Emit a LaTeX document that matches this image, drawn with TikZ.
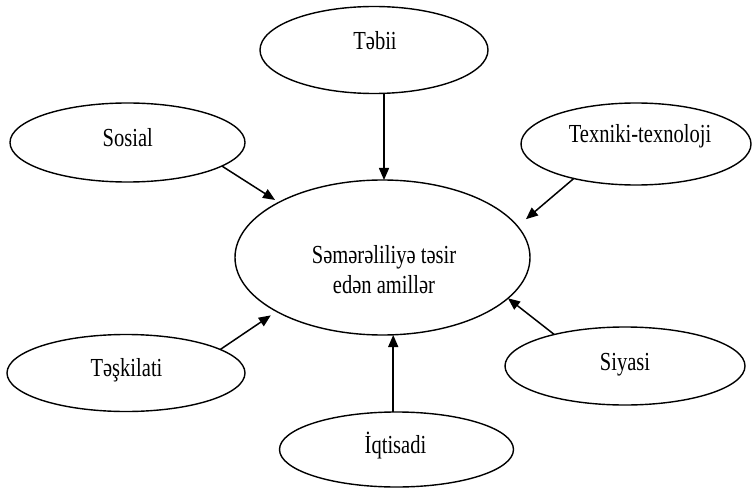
\documentclass[tikz,border=0pt]{standalone}
\usepackage{fontspec}
\setmainfont{Liberation Serif}[FakeStretch=0.79]
\usetikzlibrary{arrows.meta,shapes.geometric}
\begin{document}
\begin{tikzpicture}[x=1pt,y=-1pt,
  ell/.style={draw, ellipse, line width=1.4pt, inner sep=0pt, outer sep=0pt},
  txt/.style={font=\fontsize{26}{30}\selectfont, anchor=base, inner sep=0pt},
  arr/.style={line width=1.5pt, -{Triangle[length=12pt,width=10pt]}}]
\useasboundingbox (0,0) rectangle (754,489);
% ellipses
\node[ell, minimum width=295pt, minimum height=155pt] (cen) at (382.5,257.5) {};
\node[ell, minimum width=228pt, minimum height=87pt] (tebii) at (374,50) {};
\node[ell, minimum width=235pt, minimum height=79pt] (sosial) at (127.5,142.5) {};
\node[ell, minimum width=230pt, minimum height=82pt] (tex) at (636,144) {};
\node[ell, minimum width=238pt, minimum height=77pt] (tesk) at (126,373) {};
\node[ell, minimum width=240pt, minimum height=78pt] (siy) at (625,366) {};
\node[ell, minimum width=234pt, minimum height=75pt] (iqt) at (396.5,449.5) {};
% texts
\node[font=\fontsize{26}{30}\selectfont, align=center, inner sep=0pt] (cenT) at (384,270) {Səmərəliliyə təsir\\edən amillər};
\node[txt] (tebiiT) at (375,50) {Təbii};
\node[txt] (sosialT) at (127.8,146.7) {Sosial};
\node[txt] (texT) at (640,143) {Texniki-texnoloji};
\node[txt] (teskT) at (126.5,376.7) {Təşkilati};
\node[txt] (siyT) at (625,370) {Siyasi};
\node[txt] (iqtT) at (395.5,453.3) {İqtisadi};
% arrows
\draw[arr] (tebii.-77.5) -- (tebii.-77.5 |- cen.north);
\draw[arr, shorten >=4.5pt] (sosial.-14.7) -- (cen.152);
\draw[arr, shorten >=11pt] (tex.209.4) -- (cen.13.7);
\draw[arr, shorten >=7pt] (tesk.14.2) -- (cen.207.6);
\draw[arr] (siy.156) -- (cen.-18);
\draw[arr] (iqt.95.3) -- (iqt.95.3 |- cen.south);
\end{tikzpicture}
\end{document}
